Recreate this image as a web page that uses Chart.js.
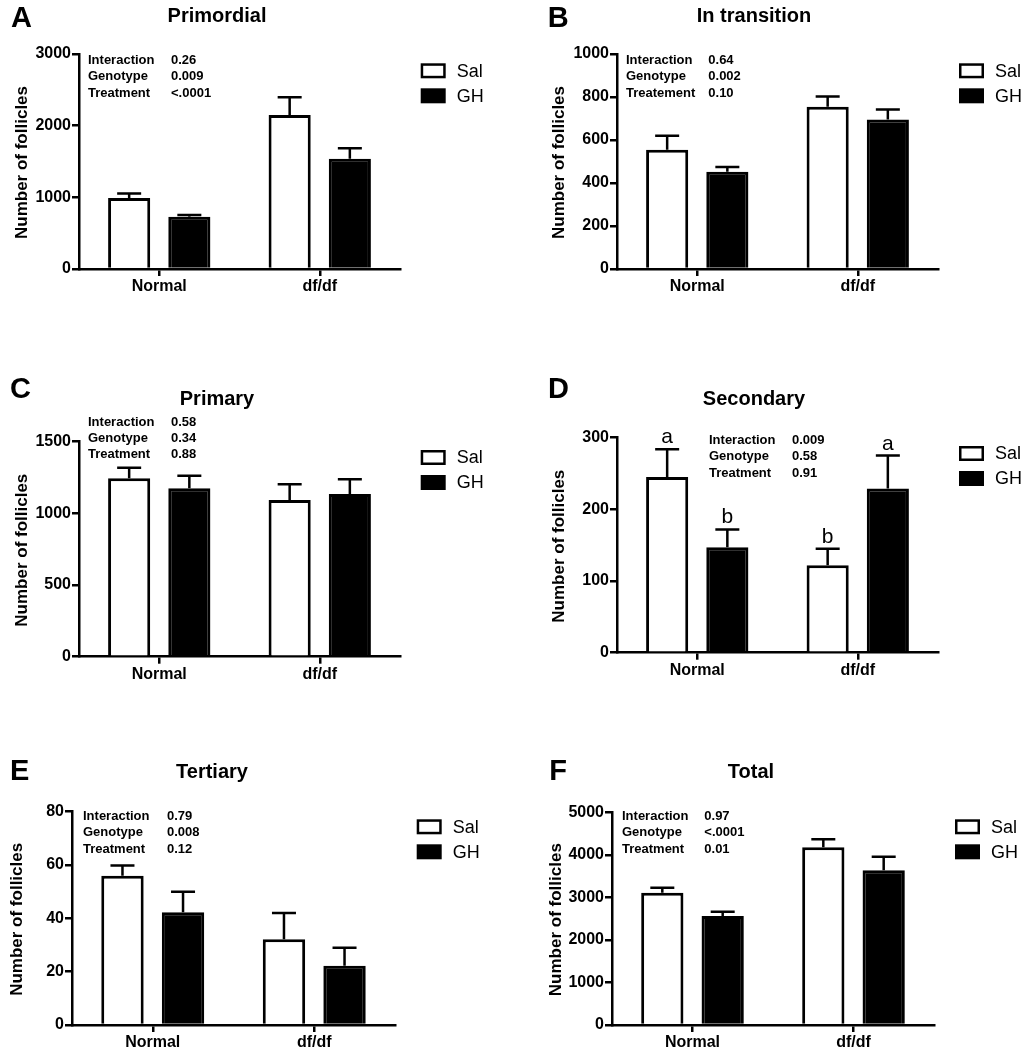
<!DOCTYPE html>
<html>
<head>
<meta charset="utf-8">
<script src="https://cdn.jsdelivr.net/npm/chart.js@4.4.1/dist/chart.umd.min.js"></script>
<style>
  body { margin: 0; background: #fff; }
  #page { position: relative; width: 1022px; height: 1050px; overflow: hidden; background: #fff; }
  canvas { position: absolute; }
</style>
</head>
<body>
<div id="page">
  <canvas id="cA"></canvas>
  <canvas id="cB"></canvas>
  <canvas id="cC"></canvas>
  <canvas id="cD"></canvas>
  <canvas id="cE"></canvas>
  <canvas id="cF"></canvas>
</div>
<script>
// groups and series
const groups = ['Normal', 'df/df'];
const seriesNames = ['Sal', 'GH'];
const statNames = ['Interaction', 'Genotype', 'Treatment'];
const statNamesB = ['Interaction', 'Genotype', 'Treatement'];
const yTitle = 'Number of follicles';

// A - primordial
const primordialSal = [990, 2150];
const primordialSalSem = [65, 245];
const primordialGh = [730, 1540];
const primordialGhSem = [25, 145];
const primordialP = ['0.26', '0.009', '<.0001'];
const primordialTicks = [0, 1000, 2000, 3000];

// B - in transition
const transitionSal = [555, 755];
const transitionSalSem = [65, 47];
const transitionGh = [452, 695];
const transitionGhSem = [23, 47];
const transitionP = ['0.64', '0.002', '0.10'];
const transitionTicks = [0, 200, 400, 600, 800, 1000];

// C - primary
const primarySal = [1245, 1093];
const primarySalSem = [74, 110];
const primaryGh = [1175, 1135];
const primaryGhSem = [88, 103];
const primaryP = ['0.58', '0.34', '0.88'];
const primaryTicks = [0, 500, 1000, 1500];

// D - secondary
const secondarySal = [245, 122];
const secondarySalSem = [39, 23];
const secondaryGh = [147, 229];
const secondaryGhSem = [25, 46];
const secondarySalSig = ['a', 'b'];
const secondaryGhSig = ['b', 'a'];
const secondaryP = ['0.009', '0.58', '0.91'];
const secondaryTicks = [0, 100, 200, 300];

// E - tertiary
const tertiarySal = [56, 32.2];
const tertiarySalSem = [3.8, 9.8];
const tertiaryGh = [42.3, 22.2];
const tertiaryGhSem = [7.7, 6.8];
const tertiaryP = ['0.79', '0.008', '0.12'];
const tertiaryTicks = [0, 20, 40, 60, 80];

// F - total
const totalSal = [3110, 4177];
const totalSalSem = [118, 188];
const totalGh = [2562, 3636];
const totalGhSem = [101, 321];
const totalP = ['0.97', '<.0001', '0.01'];
const totalTicks = [0, 1000, 2000, 3000, 4000, 5000];

const FONT = '"Liberation Sans", Arial, Helvetica, sans-serif';
const W = 511, H = 330;

function drawPanel(id, g, d) {
  const cv = document.getElementById(id);
  cv.width = W; cv.height = H;
  cv.style.left = g.left + 'px';
  cv.style.top = g.top + 'px';
  const L = g.left, T = g.top;

  const extras = {
    id: 'extras',
    afterDatasetsDraw(chart) {
      const c = chart.ctx, ys = chart.scales.y;
      c.save();
      c.strokeStyle = '#000';
      c.fillStyle = '#000';
      c.lineWidth = 2.5;
      [[d.sal, d.salSem, d.salSig], [d.gh, d.ghSem, d.ghSig]].forEach((s, i) => {
        chart.getDatasetMeta(i).data.forEach((bar, j) => {
          const y0 = ys.getPixelForValue(s[0][j]);
          const y1 = ys.getPixelForValue(s[0][j] + s[1][j]);
          c.beginPath();
          c.moveTo(bar.x, y0); c.lineTo(bar.x, y1);
          c.moveTo(bar.x - 12, y1); c.lineTo(bar.x + 12, y1);
          c.stroke();
          if (s[2]) {
            c.font = '21px ' + FONT;
            c.textAlign = 'center';
            c.textBaseline = 'alphabetic';
            c.fillText(s[2][j], bar.x, y1 - 6);
          }
        });
      });
      c.restore();
    },
    afterDraw(chart) {
      const c = chart.ctx;
      c.save();
      c.fillStyle = '#000';
      c.strokeStyle = '#000';
      c.textBaseline = 'alphabetic';
      // panel letter
      c.font = 'bold 29px ' + FONT;
      c.textAlign = 'left';
      c.fillText(g.letter, g.letterX - L, g.letterY - T);
      // title
      c.font = 'bold 20px ' + FONT;
      c.textAlign = 'center';
      c.fillText(g.title, g.titleX - L, g.titleY - T);
      // y axis title
      c.save();
      c.translate(g.yTitleX - L, (g.topY + g.zeroY) / 2 + 1 - T);
      c.rotate(-Math.PI / 2);
      c.font = 'bold 17px ' + FONT;
      c.fillText(yTitle, 0, 0);
      c.restore();
      // stats
      c.font = 'bold 13px ' + FONT;
      c.textAlign = 'left';
      d.names.forEach((n, i) => {
        c.fillText(n, g.statX - L, g.statY - T + i * 16.3);
        c.fillText(d.p[i], g.valX - L, g.statY - T + i * 16.3);
      });
      // legend
      const lx = g.legX - L, ly = g.legY - T;
      c.lineWidth = 2.5;
      c.strokeRect(lx + 1.25, ly + 1.25, 22.5, 12.5);
      c.fillRect(lx, ly + 25, 25, 15);
      c.font = '18px ' + FONT;
      c.fillText(seriesNames[0], lx + 36, ly + 13.4);
      c.fillText(seriesNames[1], lx + 36, ly + 38.4);
      c.restore();
    }
  };

  const axisGrid = {
    display: true, drawOnChartArea: false, drawTicks: true,
    tickLength: 7, color: '#000', lineWidth: 2.5
  };
  const axisBorder = { display: true, color: '#000', width: 2.5 };
  const tickFont = { family: FONT, size: 16, weight: 'bold' };

  new Chart(cv.getContext('2d'), {
    type: 'bar',
    data: {
      labels: groups,
      datasets: [
        { label: seriesNames[0], data: d.sal, backgroundColor: '#fff', borderColor: '#000',
          borderWidth: 3, categoryPercentage: 0.75, barPercentage: 0.7 },
        { label: seriesNames[1], data: d.gh, backgroundColor: '#000', borderColor: '#000',
          borderWidth: 3, categoryPercentage: 0.75, barPercentage: 0.7 }
      ]
    },
    options: {
      responsive: false,
      animation: false,
      events: [],
      layout: { padding: { left: 0, top: g.topY - T, right: L + W - g.rightX, bottom: 0 } },
      plugins: { legend: { display: false }, tooltip: { enabled: false } },
      scales: {
        x: {
          grid: Object.assign({ offset: false }, axisGrid),
          border: axisBorder,
          ticks: { color: '#000', font: tickFont, padding: 1, maxRotation: 0 },
          afterFit: s => { s.height = T + H - g.zeroY; }
        },
        y: {
          min: d.ticks[0],
          max: d.ticks[d.ticks.length - 1],
          grid: axisGrid,
          border: axisBorder,
          ticks: { color: '#000', font: tickFont, padding: 1, stepSize: d.ticks[1] - d.ticks[0],
                   callback: v => String(v) },
          afterFit: s => { s.width = g.axisX - L; }
        }
      }
    },
    plugins: [extras]
  });
}

drawPanel('cA',
  { left: 0, top: 0, axisX: 79, topY: 54, zeroY: 269, rightX: 400, letter: 'A', letterX: 11, letterY: 26.7,
    title: 'Primordial', titleX: 217, titleY: 21.7, yTitleX: 26.7, statX: 88, valX: 171, statY: 64, legX: 420.7, legY: 63.3 },
  { sal: primordialSal, salSem: primordialSalSem, gh: primordialGh, ghSem: primordialGhSem,
    names: statNames, p: primordialP, ticks: primordialTicks });

drawPanel('cB',
  { left: 511, top: 0, axisX: 617, topY: 54, zeroY: 269, rightX: 938, letter: 'B', letterX: 547.7, letterY: 26.7,
    title: 'In transition', titleX: 754, titleY: 21.7, yTitleX: 564.3, statX: 626, valX: 708.3, statY: 64, legX: 959, legY: 63.3 },
  { sal: transitionSal, salSem: transitionSalSem, gh: transitionGh, ghSem: transitionGhSem,
    names: statNamesB, p: transitionP, ticks: transitionTicks });

drawPanel('cC',
  { left: 0, top: 360, axisX: 79, topY: 441.7, zeroY: 656.7, rightX: 400, letter: 'C', letterX: 10, letterY: 397.7,
    title: 'Primary', titleX: 217, titleY: 405, yTitleX: 26.7, statX: 88, valX: 171, statY: 425.7, legX: 420.7, legY: 450 },
  { sal: primarySal, salSem: primarySalSem, gh: primaryGh, ghSem: primaryGhSem,
    names: statNames, p: primaryP, ticks: primaryTicks });

drawPanel('cD',
  { left: 511, top: 360, axisX: 617, topY: 437.7, zeroY: 652.7, rightX: 938, letter: 'D', letterX: 548, letterY: 397.7,
    title: 'Secondary', titleX: 754, titleY: 405, yTitleX: 564.3, statX: 709, valX: 792, statY: 444, legX: 959, legY: 446 },
  { sal: secondarySal, salSem: secondarySalSem, gh: secondaryGh, ghSem: secondaryGhSem,
    salSig: secondarySalSig, ghSig: secondaryGhSig,
    names: statNames, p: secondaryP, ticks: secondaryTicks });

drawPanel('cE',
  { left: 0, top: 720, axisX: 72, topY: 811.7, zeroY: 1025, rightX: 395, letter: 'E', letterX: 10, letterY: 780,
    title: 'Tertiary', titleX: 212, titleY: 778.3, yTitleX: 21.7, statX: 83, valX: 167, statY: 820, legX: 416.7, legY: 819.3 },
  { sal: tertiarySal, salSem: tertiarySalSem, gh: tertiaryGh, ghSem: tertiaryGhSem,
    names: statNames, p: tertiaryP, ticks: tertiaryTicks });

drawPanel('cF',
  { left: 511, top: 720, axisX: 612, topY: 812.3, zeroY: 1025, rightX: 934, letter: 'F', letterX: 549.3, letterY: 780,
    title: 'Total', titleX: 751, titleY: 778.3, yTitleX: 561, statX: 622, valX: 704.3, statY: 820, legX: 955, legY: 819.3 },
  { sal: totalSal, salSem: totalSalSem, gh: totalGh, ghSem: totalGhSem,
    names: statNames, p: totalP, ticks: totalTicks });
</script>
</body>
</html>
